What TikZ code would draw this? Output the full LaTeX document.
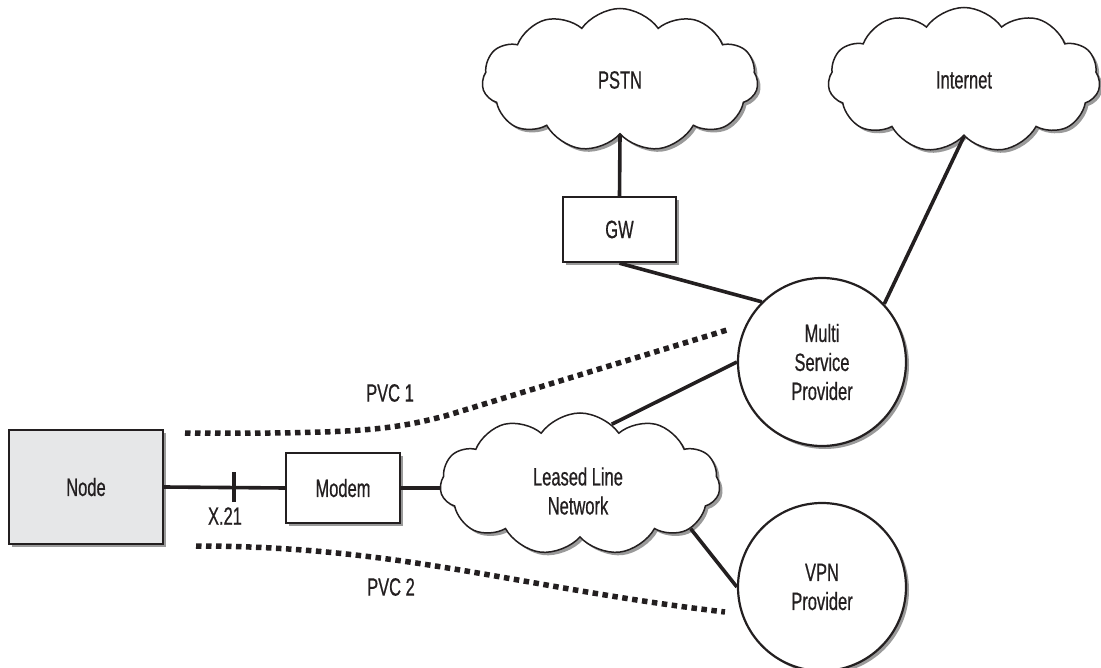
\documentclass[tikz,border=0pt]{standalone}
\usepackage{fontspec}
\setmainfont{Liberation Sans}[FakeStretch=0.66,FakeBold=0.6]
\usetikzlibrary{shapes.symbols,shadows}
\definecolor{ink}{HTML}{231F20}
\definecolor{nodefill}{HTML}{E6E7E8}
\definecolor{shade}{HTML}{9A9A9A}
\begin{document}
\begin{tikzpicture}[x=1pt,y=-1pt,
  every node/.style={font=\fontsize{25}{29}\selectfont, text=ink},
  shad/.style={drop shadow={shadow xshift=3pt,shadow yshift=-3pt,fill=shade,opacity=1}},
  boxnode/.style={draw=ink,line width=2.4pt,fill=white,shad,inner sep=0pt},
  circnode/.style={circle,draw=ink,line width=2.2pt,fill=white,shad,minimum size=168pt,inner sep=0pt,align=center},
  cloudnode/.style={cloud,cloud puffs=11,cloud puff arc=110,draw=ink,line width=1.5pt,fill=white,shad,inner sep=0pt},
  conn/.style={draw=ink,line width=3.6pt},
  pvc/.style={draw=ink,line width=5.5pt,dash pattern=on 5.5pt off 4.5pt}]
\useasboundingbox (0,0) rectangle (1101,668);

% clouds
\node[cloudnode,minimum width=276pt,minimum height=143pt] (pstn) at (620,80) {PSTN};
\node[cloudnode,minimum width=272pt,minimum height=145pt] (inet) at (964,80) {Internet};
\node[cloudnode,minimum width=280pt,minimum height=142pt] (ll) at (580,484) {};
\node[align=center] (lltext) at (578,491) {Leased Line\\Network};

% boxes
\node[boxnode,fill=nodefill,minimum width=154pt,minimum height=114pt] (node) at (86,487) {Node};
\node[boxnode,minimum width=113pt,minimum height=65pt] (gw) at (619.5,229.5) {GW};
\node[boxnode,minimum width=114pt,minimum height=70pt] (modem) at (343,488) {Modem};

% circles
\node[circnode] (msp) at (822,362) {Multi\\Service\\Provider};
\node[circnode] (vpn) at (822,587) {VPN\\Provider};

% connectors
\draw[conn] (pstn.south) -- (gw.north);
\draw[conn] (gw.south) -- (msp.135);
\draw[conn] (inet.south) -- (msp.43);
\draw[conn] (ll.62) -- (msp.west);
\draw[conn] (ll.-22) -- (vpn.west);
\draw[conn] (node.east) -- (modem.west);
\draw[conn] (modem.east) -- (modem.east -| ll.west);

% X.21 tick
\coordinate (tick) at (234,487);
\draw[conn] ([yshift=-15pt]tick) -- ([yshift=15pt]tick);
\node (x21) at (225,516) {X.21};

% PVC paths
\coordinate (p1a) at (185,433);
\coordinate (p1b) at (727,330);
\draw[pvc] (p1a) .. controls (360,434) and (390,430) .. (445,416) -- (p1b);
\node (pvc1) at (390,393) {PVC 1};

\coordinate (p2a) at (196,546);
\coordinate (p2b) at (725,612);
\draw[pvc] (p2a) .. controls (400,546) and (520,588) .. (p2b);
\node (pvc2) at (391,587) {PVC 2};
\end{tikzpicture}
\end{document}
